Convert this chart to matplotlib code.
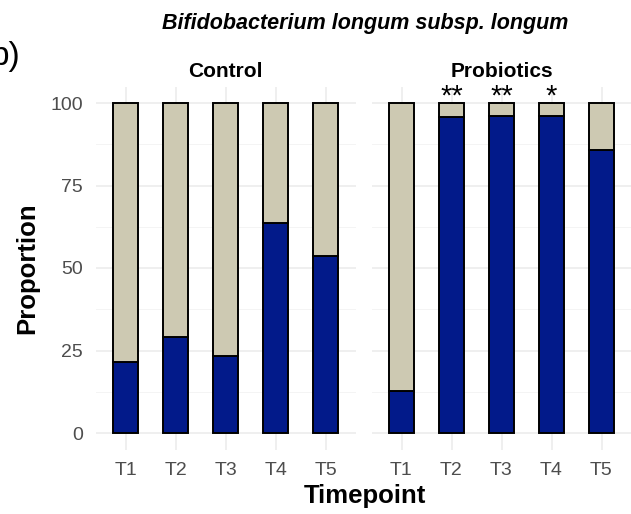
import matplotlib.pyplot as plt
import numpy as np

plt.rcParams['font.family'] = ['Liberation Sans', 'DejaVu Sans']

timepoints = ['T1', 'T2', 'T3', 'T4', 'T5']
control_present = [21.4, 29.2, 23.4, 63.5, 53.5]
probiotics_present = [12.6, 95.8, 96.1, 96.0, 85.8]
probiotics_signif = ['', '**', '**', '*', '']
groups = ['Control', 'Probiotics']

blue = '#021a8a'
beige = '#cdc9b2'
W, H = 631, 514

fig = plt.figure(figsize=(W / 100, H / 100), dpi=100)

def panel(left_px, values, title, signif=None):
    ax = fig.add_axes([left_px / W, (H - 449.5) / H, 260 / W, 363 / H])
    x = np.arange(len(timepoints)) + 1
    vals = np.array(values)
    ax.bar(x, vals, width=0.5, color=blue, edgecolor='black', linewidth=1.4, zorder=3)
    ax.bar(x, 100 - vals, bottom=vals, width=0.5, color=beige, edgecolor='black', linewidth=1.4, zorder=3)
    ax.set_xlim(0.4, 5.6)
    ax.set_ylim(-5, 105)
    ax.set_xticks(x)
    ax.set_xticklabels(timepoints)
    ax.set_yticks([0, 25, 50, 75, 100])
    ax.set_yticks([12.5, 37.5, 62.5, 87.5], minor=True)
    ax.grid(True, which='major', color='#ebebeb', linewidth=1.1, zorder=0)
    ax.grid(True, which='minor', axis='y', color='#f2f2f2', linewidth=0.6, zorder=0)
    ax.tick_params(which='both', length=0, labelsize=14, labelcolor='#4d4d4d', pad=9)
    for s in ax.spines.values():
        s.set_visible(False)
    ax.set_title(title, fontsize=15, fontweight='bold', pad=7)
    if signif:
        for xi, s in zip(x, signif):
            if s:
                ax.text(xi, 99.5, s, ha='center', va='baseline', fontsize=21, clip_on=False)
    return ax

ax1 = panel(95.7, control_present, groups[0])
ax2 = panel(371.5, probiotics_present, groups[1], probiotics_signif)
ax2.tick_params(labelleft=False)

fig.text(27 / W, 1 - 268 / H, 'Proportion', ha='center', va='center', rotation=90,
         fontsize=18.5, fontweight='bold')
fig.text(364.5 / W, 1 - 496 / H, 'Timepoint', ha='center', va='center', fontsize=18.5, fontweight='bold')
fig.text(365 / W, 1 - 28.5 / H, 'Bifidobacterium longum subsp. longum', ha='center', va='baseline',
         fontsize=15.5, fontweight='bold', style='italic')
fig.text(21 / W, 1 - 57 / H, 'b)', ha='right', va='center', fontsize=24)

fig.savefig('out.png', dpi=100)
